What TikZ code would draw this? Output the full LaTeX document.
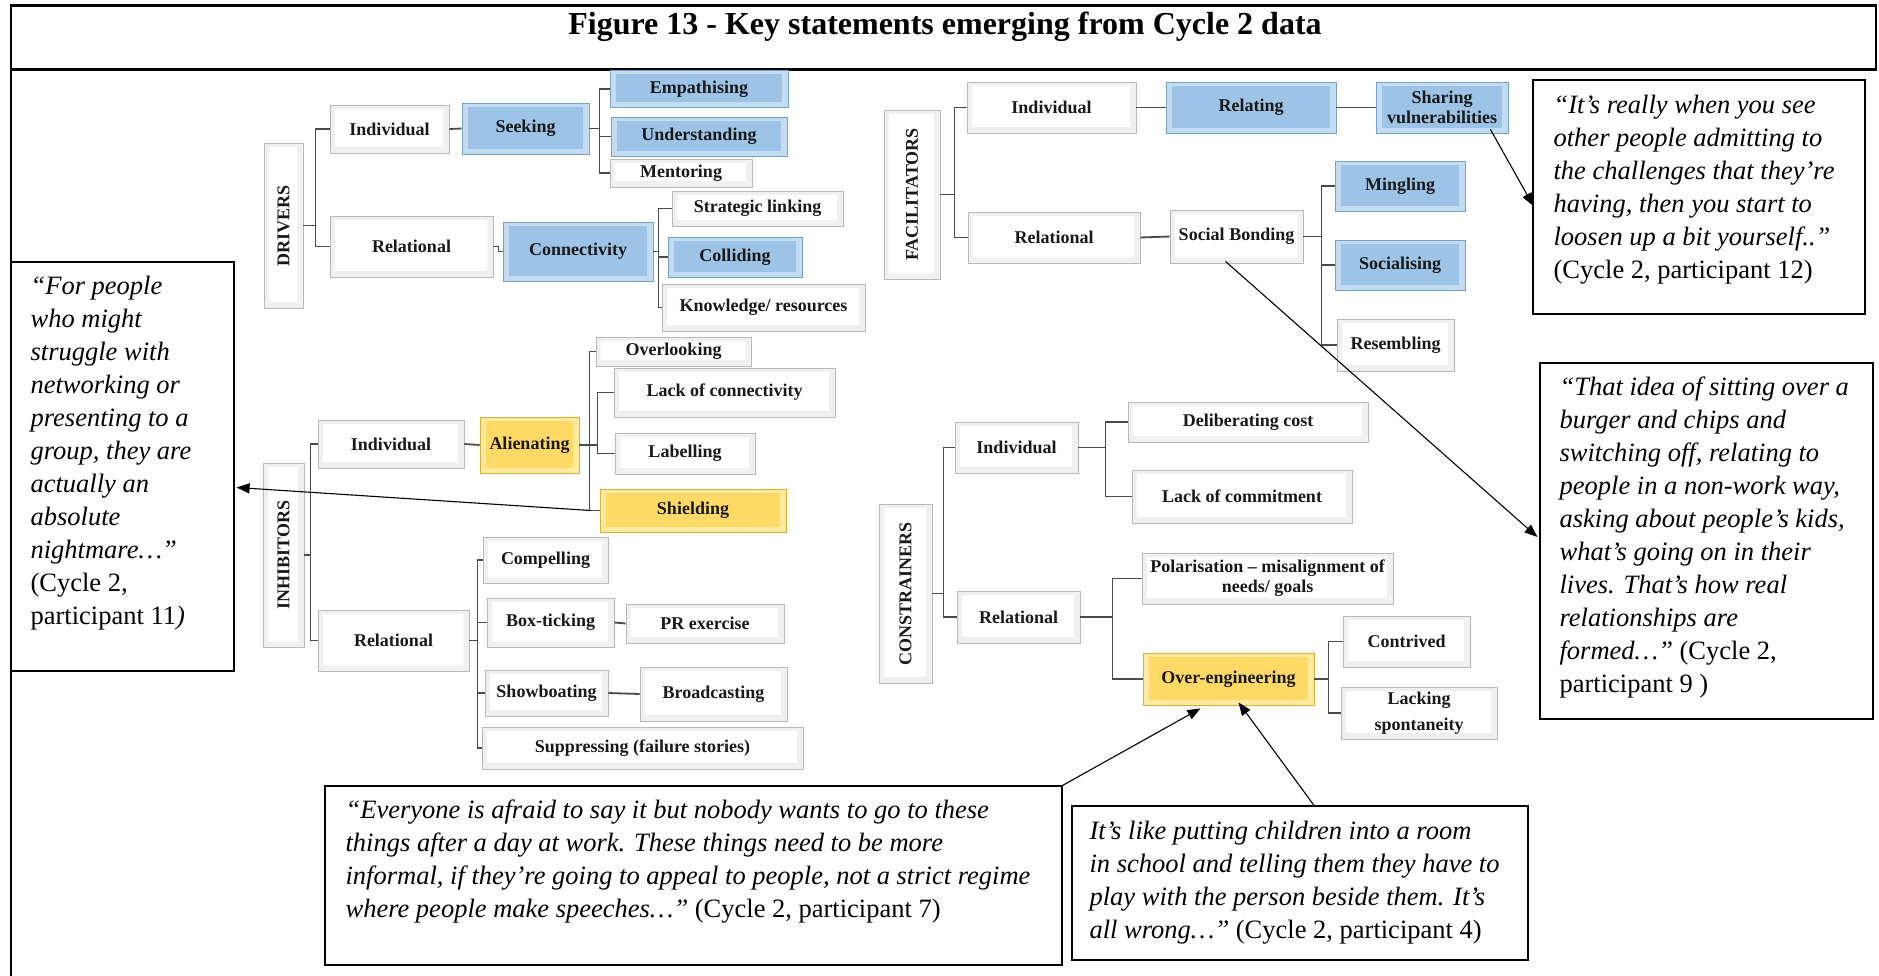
\documentclass[tikz,border=0pt]{standalone}
\usepackage{fontspec}
\setmainfont{Liberation Serif}
\usepackage{graphicx}
\usetikzlibrary{arrows.meta}

\definecolor{bluein}{RGB}{157,195,230}
\definecolor{blueedge}{RGB}{196,220,242}
\definecolor{blueline}{RGB}{120,160,205}
\definecolor{yelin}{RGB}{255,217,102}
\definecolor{yeledge}{RGB}{255,234,160}
\definecolor{yelline}{RGB}{215,175,60}
\definecolor{treeline}{RGB}{75,75,75}

\newcommand\lblfont{\fontsize{18}{20}\selectfont\bfseries}
\newcommand\quotefont{\fontsize{26.5}{33}\selectfont}

\tikzset{
  tbox/.style={rectangle, inner sep=0pt, align=center, font=\lblfont,
    text=black!90, line width=0.8pt},
  % bevelled boxes: a lighter rim and an inset face
  wbox/.style={tbox, draw=gray!55, fill=gray!12,
    path picture={\fill[white] ([shift={(5,4)}]path picture bounding box.north west)
      rectangle ([shift={(-6,-6)}]path picture bounding box.south east);}},
  bbox/.style={tbox, draw=blueline, fill=blueedge,
    path picture={\fill[bluein] ([shift={(6,4)}]path picture bounding box.north west)
      rectangle ([shift={(-6,-5)}]path picture bounding box.south east);}},
  ybox/.style={tbox, draw=yelline, fill=yeledge,
    path picture={\fill[yelin] ([shift={(6,4)}]path picture bounding box.north west)
      rectangle ([shift={(-6,-5)}]path picture bounding box.south east);}},
  link/.style={draw=treeline, line width=1.8pt},
  qbox/.style={rectangle, draw=black, line width=1.2pt, inner sep=0pt},
  qtext/.style={anchor=north west, inner sep=0pt, align=left, font=\quotefont},
  callout/.style={draw=black, line width=1.1pt, -{Triangle[length=13pt,width=10pt]}},
}

\begin{document}
\begin{tikzpicture}[x=1pt,y=-1pt]
\useasboundingbox (0,0) rectangle (1879,976);

% frame and title
\draw[line width=3pt] (10,6) -- (1877,6);
\draw[line width=3pt] (10,70) -- (1877,70);
\draw[line width=2.5pt] (11,6) -- (11,976);
\draw[line width=2pt] (1876,6) -- (1876,70);
\node[font=\fontsize{32}{36}\selectfont\bfseries] (title) at (945,27)
  {Figure 13 - Key statements emerging from Cycle 2 data};

% ---------------- DRIVERS ----------------
\node[wbox, minimum width=39, minimum height=165] (drv) at (283.5,225.5) {\rotatebox{90}{DRIVERS}};
\node[wbox, minimum width=119, minimum height=48] (dInd) at (389.5,129) {Individual};
\node[bbox, minimum width=127, minimum height=51] (dSeek) at (525.5,128.5) {Seeking};
\node[bbox, minimum width=178, minimum height=37] (dEmp) at (699,89) {Empathising};
\node[bbox, minimum width=176, minimum height=39] (dUnd) at (699,136.5) {Understanding};
\node[wbox, minimum width=142, minimum height=28] (dMen) at (681,173) {Mentoring};
\node[wbox, minimum width=163, minimum height=61] (dRel) at (411.5,246.5) {Relational};
\node[bbox, minimum width=150, minimum height=59] (dCon) at (578,251.5) {Connectivity};
\node[wbox, minimum width=171, minimum height=35] (dStr) at (757.5,208.5) {Strategic linking};
\node[bbox, minimum width=134, minimum height=40] (dCol) at (735,257) {Colliding};
\node[wbox, minimum width=203, minimum height=47] (dKno) at (763.5,307.5) {Knowledge/ resources};

\draw[link] (drv.east) -- ++(12,0) |- (dInd.west);
\draw[link] (drv.east) -- ++(12,0) |- (dRel.west);
\draw[link] (dInd.east) -- (dSeek.west);
\draw[link] (dSeek.east) -- ++(10,0) |- (dEmp.west);
\draw[link] (dSeek.east) -- ++(10,0) |- (dUnd.west);
\draw[link] (dSeek.east) -- ++(10,0) |- (dMen.west);
\draw[link] (dRel.east) -- ++(5,0) |- (dCon.west);
\draw[link] (dCon.east) -- ++(5,0) |- (dStr.west);
\draw[link] (dCon.east) -- ++(5,0) |- (dCol.west);
\draw[link] (dCon.east) -- ++(5,0) |- (dKno.west);

% ---------------- FACILITATORS ----------------
\node[wbox, minimum width=56, minimum height=169] (fac) at (912,194.5) {\rotatebox{90}{FACILITATORS}};
\node[wbox, minimum width=169, minimum height=51] (fInd) at (1051.5,107.5) {Individual};
\node[bbox, minimum width=170, minimum height=51] (fRlt) at (1251,107.5) {Relating};
\node[bbox, minimum width=132, minimum height=51] (fSha) at (1442,107.5) {Sharing\\vulnerabilities};
\node[wbox, minimum width=172, minimum height=51] (fRel) at (1054,237.5) {Relational};
\node[wbox, minimum width=133, minimum height=53] (fSoc) at (1236.5,236.5) {Social Bonding};
\node[bbox, minimum width=130, minimum height=50] (fMin) at (1400,186) {Mingling};
\node[bbox, minimum width=130, minimum height=50] (fSos) at (1400,265) {Socialising};
\node[wbox, minimum width=117, minimum height=52] (fRes) at (1395.5,345) {Resembling};

\draw[link] (fac.east) -- ++(14,0) |- (fInd.west);
\draw[link] (fac.east) -- ++(14,0) |- (fRel.west);
\draw[link] (fInd.east) -- (fRlt.west);
\draw[link] (fRlt.east) -- (fSha.west);
\draw[link] (fRel.east) -- (fSoc.west);
\draw[link] (fSoc.east) -- ++(18,0) |- (fMin.west);
\draw[link] (fSoc.east) -- ++(18,0) |- (fSos.west);
\draw[link] (fSoc.east) -- ++(18,0) |- (fRes.west);

% ---------------- INHIBITORS ----------------
\node[wbox, minimum width=41, minimum height=184] (inh) at (283.5,555) {\rotatebox{90}{INHIBITORS}};
\node[wbox, minimum width=146, minimum height=48] (iInd) at (391,444) {Individual};
\node[ybox, minimum width=99, minimum height=56] (iAli) at (529.5,445) {Alienating};
\node[wbox, minimum width=155, minimum height=29] (iOve) at (673.5,351.5) {Overlooking};
\node[wbox, minimum width=221, minimum height=49] (iLac) at (724.5,392.5) {Lack of connectivity};
\node[wbox, minimum width=140, minimum height=41] (iLab) at (685,453.5) {Labelling};
\node[ybox, minimum width=186, minimum height=43] (iShi) at (693,510.5) {Shielding};
\node[wbox, minimum width=151, minimum height=61] (iRel) at (393.5,640.5) {Relational};
\node[wbox, minimum width=125, minimum height=46] (iCom) at (545.5,560) {Compelling};
\node[wbox, minimum width=127, minimum height=49] (iBox) at (550.5,622.5) {Box-ticking};
\node[wbox, minimum width=158, minimum height=39] (iPR) at (705,623.5) {PR exercise};
\node[wbox, minimum width=123, minimum height=46] (iSho) at (546.5,693) {Showboating};
\node[wbox, minimum width=147, minimum height=54] (iBro) at (713.5,694) {Broadcasting};
\node[wbox, minimum width=321, minimum height=42] (iSup) at (642.5,748) {Suppressing (failure stories)};

\draw[link] (inh.east) -- ++(6,0) |- (iInd.west);
\draw[link] (inh.east) -- ++(6,0) |- (iRel.west);
\draw[link] (iInd.east) -- (iAli.west);
\draw[link] (iAli.east) -- ++(10,0) |- (iOve.west);
\draw[link] (iAli.east) -- ++(10,0) |- (iShi.west);
\draw[link] (iAli.east) -- ++(18,0) |- (iLac.west);
\draw[link] (iAli.east) -- ++(18,0) |- (iLab.west);
\draw[link] (iRel.east) -- ++(8,0) |- (iCom.west);
\draw[link] (iRel.east) -- ++(8,0) |- (iBox.west);
\draw[link] (iRel.east) -- ++(8,0) |- (iSho.west);
\draw[link] (iRel.east) -- ++(8,0) |- (iSup.west);
\draw[link] (iBox.east) -- (iPR.west);
\draw[link] (iSho.east) -- (iBro.west);

% ---------------- CONSTRAINERS ----------------
\node[wbox, minimum width=53, minimum height=179] (con) at (905.5,593.5) {\rotatebox{90}{CONSTRAINERS}};
\node[wbox, minimum width=123, minimum height=51] (cInd) at (1016.5,447.5) {Individual};
\node[wbox, minimum width=123, minimum height=52] (cRel) at (1018.5,617) {Relational};
\node[wbox, minimum width=240, minimum height=40] (cDel) at (1248,422) {Deliberating cost};
\node[wbox, minimum width=220, minimum height=53] (cLac) at (1242,496.5) {Lack of commitment};
\node[wbox, minimum width=251, minimum height=51] (cPol) at (1267.5,578.5) {Polarisation -- misalignment of\\needs/ goals};
\node[ybox, minimum width=171, minimum height=52] (cOve) at (1228.5,679) {Over-engineering};
\node[wbox, minimum width=127, minimum height=51] (cCnt) at (1406.5,641.5) {Contrived};
\node[wbox, minimum width=156, minimum height=52] (cLsp) at (1419,713) {Lacking\\[6pt]spontaneity};

\draw[link] (con.east) -- ++(11,0) |- (cInd.west);
\draw[link] (con.east) -- ++(11,0) |- (cRel.west);
\draw[link] (cInd.east) -- ++(27,0) |- (cDel.west);
\draw[link] (cInd.east) -- ++(27,0) |- (cLac.west);
\draw[link] (cRel.east) -- ++(32,0) |- (cPol.west);
\draw[link] (cRel.east) -- ++(32,0) |- (cOve.west);
\draw[link] (cOve.east) -- ++(14,0) |- (cCnt.west);
\draw[link] (cOve.east) -- ++(14,0) |- (cLsp.west);

% ---------------- quotations ----------------
\node[qbox, minimum width=223, minimum height=409] (qL) at (122.5,466.5) {};
\node[qtext] (qLt) at ([shift={(20,15)}]qL.north west)
  {\itshape “For people\\\itshape who might\\\itshape struggle with\\\itshape networking or\\
   \itshape presenting to a\\\itshape group, they are\\\itshape actually an\\\itshape absolute\\
   \itshape nightmare…”\\(Cycle 2,\\participant 11\textit{)}};

\node[qbox, minimum width=332, minimum height=234] (qTR) at (1699,197) {};
\node[qtext] (qTRt) at ([shift={(21,16)}]qTR.north west)
  {\itshape “It’s really when you see\\\itshape other people admitting to\\
   \itshape the challenges that they’re\\\itshape having, then you start to\\
   \itshape loosen up a bit yourself..”\\(Cycle 2, participant 12)};

\node[qbox, minimum width=333, minimum height=356] (qBR) at (1706.5,541) {};
\node[qtext] (qBRt) at ([shift={(20,14)}]qBR.north west)
  {\itshape “That idea of sitting over a\\\itshape burger and chips and\\
   \itshape switching off, relating to\\\itshape people in a non-work way,\\
   \itshape asking about people’s kids,\\\itshape what’s going on in their\\
   \itshape lives. That’s how real\\\itshape relationships are\\
   \textit{formed…”} (Cycle 2,\\participant 9 )};

\node[qbox, minimum width=737, minimum height=179] (qBM) at (693.5,875.5) {};
\node[qtext] (qBMt) at ([shift={(21,14)}]qBM.north west)
  {\itshape “Everyone is afraid to say it but nobody wants to go to these\\
   \itshape things after a day at work. These things need to be more\\
   \itshape informal, if they’re going to appeal to people, not a strict regime\\
   \textit{where people make speeches…”} (Cycle 2, participant 7)};

\node[qbox, minimum width=456, minimum height=154] (qBB) at (1300,883) {};
\node[qtext] (qBBt) at ([shift={(18,16)}]qBB.north west)
  {\itshape It’s like putting children into a room\\
   \itshape in school and telling them they have to\\
   \itshape play with the person beside them. It’s\\
   \textit{all wrong…”} (Cycle 2, participant 4)};

% callout arrows
\draw[callout] ([shift={(-18,-4)}]fSha.south east) -- ([shift={(1,9)}]qTR.west);
\draw[callout] ([shift={(-11,-2)}]fSoc.south) -- ([shift={(-2,-4)}]qBR.west);
\draw[callout] ([shift={(-9,0)}]iShi.west) -- ([shift={(2,21)}]qL.east);
\draw[callout] (qBM.north east) -- ([shift={(-28,3)}]cOve.south);
\draw[callout] ([shift={(14,0)}]qBB.north) -- ([shift={(10,-3)}]cOve.south);
\end{tikzpicture}
\end{document}
